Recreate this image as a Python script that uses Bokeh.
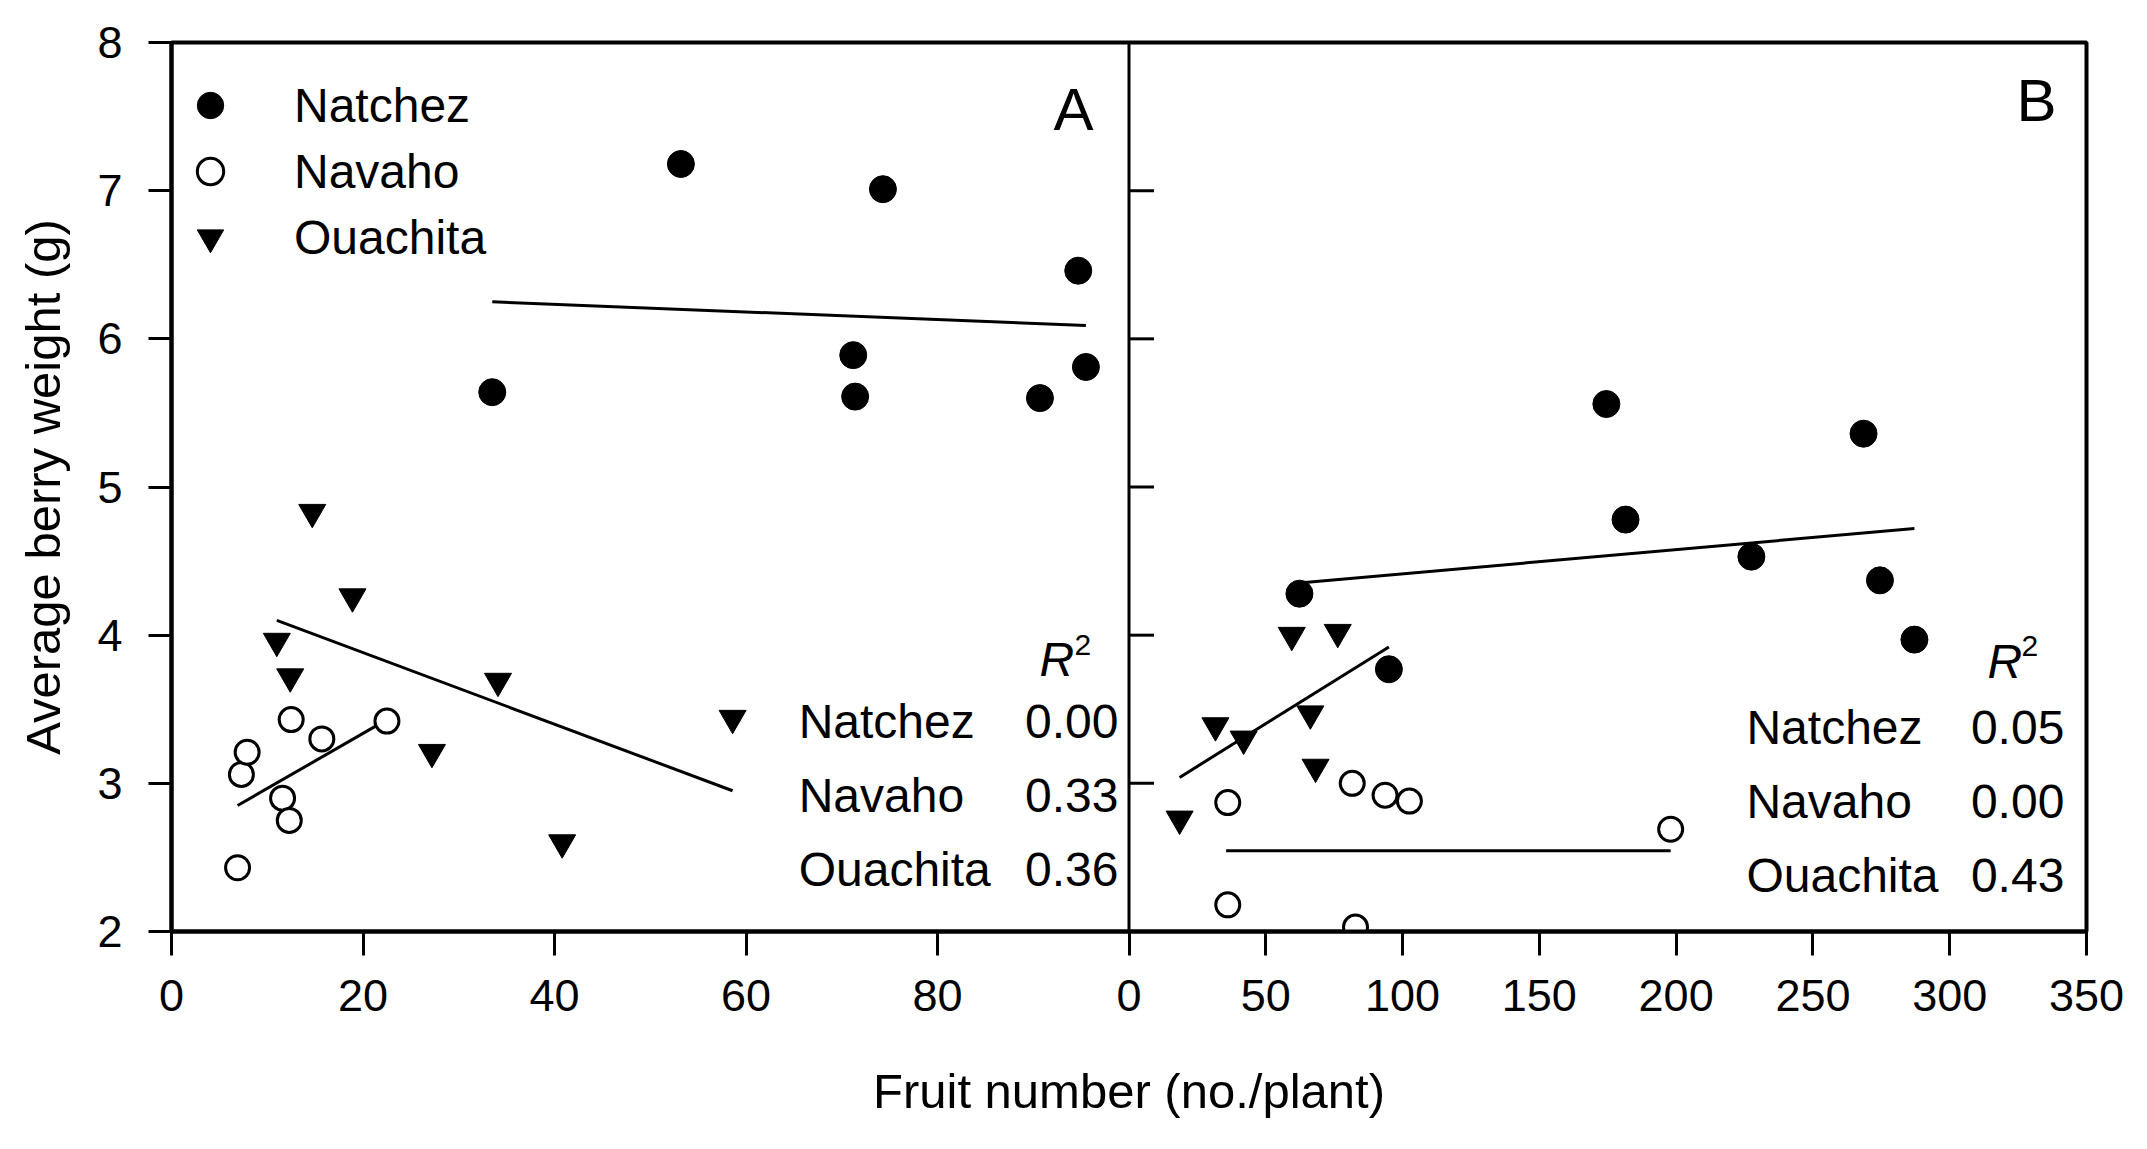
from bokeh.plotting import figure
from bokeh.models import (Range1d, LinearAxis, FixedTicker, Span, Legend, LegendItem)
from bokeh.core.properties import value
from bokeh.embed import file_html
from bokeh.resources import INLINE

# ---------------- data ----------------
# Panel A
natA_x = [53.2, 74.3, 94.7, 71.2, 71.4, 95.5, 90.7, 33.5]
natA_y = [7.18, 7.01, 6.46, 5.89, 5.61, 5.81, 5.60, 5.64]
navA_x = [6.9, 7.3, 7.9, 11.6, 12.3, 12.5, 15.7, 22.5]
navA_y = [2.43, 3.06, 3.21, 2.90, 2.75, 3.43, 3.30, 3.42]
ouaA_x = [11.0, 12.4, 14.7, 18.9, 27.2, 34.1, 40.8, 58.6]
ouaA_y = [3.96, 3.72, 4.83, 4.26, 3.21, 3.69, 2.60, 3.44]
natA_fit_x = [33.5, 95.5]
natA_fit_y = [6.25, 6.09]
navA_fit_x = [6.9, 22.5]
navA_fit_y = [2.85, 3.43]
ouaA_fit_x = [11.0, 58.6]
ouaA_fit_y = [4.10, 2.95]

# Panel B
natB_x = [62.3, 95.0, 174.5, 181.5, 227.5, 268.5, 274.5, 287.1]
natB_y = [4.28, 3.77, 5.56, 4.78, 4.53, 5.36, 4.37, 3.97]
navB_x = [36.1, 36.1, 81.6, 82.8, 93.6, 102.5, 198.0]
navB_y = [2.87, 2.18, 3.00, 2.03, 2.92, 2.88, 2.69]
ouaB_x = [18.5, 31.6, 41.9, 59.5, 66.3, 68.2, 76.3]
ouaB_y = [2.76, 3.39, 3.30, 4.00, 3.47, 3.11, 4.02]
natB_fit_x = [61.1, 287.1]
natB_fit_y = [4.35, 4.72]
navB_fit_x = [35.5, 198.0]
navB_fit_y = [2.545, 2.545]
ouaB_fit_x = [18.5, 95.0]
ouaB_fit_y = [3.04, 3.92]

cultivars = ["Natchez", "Navaho", "Ouachita"]
r2_A = ["0.00", "0.33", "0.36"]
r2_B = ["0.05", "0.00", "0.43"]
panel_names = ["A", "B"]

xticks_A = [0, 20, 40, 60, 80]
xticks_B = [0, 50, 100, 150, 200, 250, 300, 350]
yticks = [2, 3, 4, 5, 6, 7, 8]

x_title = "Fruit number (no./plant)"
y_title = "Average berry weight (g)"

# ---------------- styling ----------------
FONT = "Liberation Sans"
INK = "black"

rangeA = Range1d(0, 200)     # panel A occupies the left half (0-100)
rangeB = Range1d(-350, 350)  # panel B occupies the right half (0-350)

p = figure(width=2136, height=1131, x_range=rangeB, y_range=Range1d(2, 8),
           output_backend="svg", toolbar_location=None,
           x_axis_type=None, y_axis_type=None,
           min_border_left=171, min_border_right=50,
           min_border_top=42, min_border_bottom=200)
p.extra_x_ranges = {"A": rangeA}
p.background_fill_color = "white"
p.border_fill_color = "white"
p.outline_line_color = INK
p.outline_line_width = 4


def a_to_b(a):
    return rangeB.start + (a - rangeA.start) / (rangeA.end - rangeA.start) * (rangeB.end - rangeB.start)


tick_pos = [a_to_b(a) for a in xticks_A] + list(xticks_B)
tick_lab = [str(a) for a in xticks_A] + [str(b) for b in xticks_B]
overrides = {}
for t, l in zip(tick_pos, tick_lab):
    overrides[t] = l

xaxis = LinearAxis(ticker=FixedTicker(ticks=tick_pos), major_label_overrides=overrides,
                   axis_label=x_title)
yaxis = LinearAxis(ticker=FixedTicker(ticks=yticks), axis_label=y_title)
for ax in (xaxis, yaxis):
    ax.axis_line_width = 4
    ax.axis_line_color = INK
    ax.major_tick_line_width = 3
    ax.major_tick_line_color = INK
    ax.major_tick_in = 0
    ax.minor_tick_line_color = None
    ax.major_label_text_font = FONT
    ax.major_label_text_font_size = "45px"
    ax.major_label_text_color = INK
    ax.axis_label_text_font = FONT
    ax.axis_label_text_font_size = "49px"
    ax.axis_label_text_font_style = "normal"
    ax.axis_label_text_color = INK
xaxis.major_tick_out = 24
xaxis.major_label_standoff = 24
xaxis.axis_label_standoff = 50
yaxis.major_tick_out = 23
yaxis.major_label_standoff = 26
yaxis.axis_label_standoff = 24
p.add_layout(xaxis, "below")
p.add_layout(yaxis, "left")

# divider between panels, with inward ticks for panel B
p.add_layout(Span(location=xticks_B[0], dimension="height", line_color=INK, line_width=3))
p.ray(x=[xticks_B[0]] * len(yticks), y=yticks, length=25, angle=0,
      length_units="screen", line_color=INK, line_width=3)

# ---------------- fit lines ----------------
for fx, fy in ((natA_fit_x, natA_fit_y), (navA_fit_x, navA_fit_y), (ouaA_fit_x, ouaA_fit_y)):
    p.line(fx, fy, line_color=INK, line_width=3, x_range_name="A")
for fx, fy in ((natB_fit_x, natB_fit_y), (navB_fit_x, navB_fit_y), (ouaB_fit_x, ouaB_fit_y)):
    p.line(fx, fy, line_color=INK, line_width=3)

# ---------------- points ----------------
rA_nat = p.scatter(natA_x, natA_y, marker="circle", size=27, fill_color=INK, line_color=INK,
                   x_range_name="A")
rA_nav = p.scatter(navA_x, navA_y, marker="circle", size=24, fill_color="white", line_color=INK,
                   line_width=3, x_range_name="A")
rA_oua = p.scatter(ouaA_x, ouaA_y, marker="inverted_triangle", size=27, fill_color=INK,
                   line_color=INK, x_range_name="A")
p.scatter(natB_x, natB_y, marker="circle", size=27, fill_color=INK, line_color=INK)
p.scatter(navB_x, navB_y, marker="circle", size=24, fill_color="white", line_color=INK, line_width=3)
p.scatter(ouaB_x, ouaB_y, marker="inverted_triangle", size=27, fill_color=INK, line_color=INK)

legend = Legend(items=[LegendItem(label=cultivars[0], renderers=[rA_nat]),
                       LegendItem(label=cultivars[1], renderers=[rA_nav]),
                       LegendItem(label=cultivars[2], renderers=[rA_oua])],
                location=(6, 661), orientation="vertical",
                glyph_width=66, glyph_height=66, spacing=0, padding=0, margin=0,
                label_standoff=51, label_text_font=FONT, label_text_font_size="48px",
                label_text_color=INK, border_line_color=None, background_fill_alpha=0)
p.add_layout(legend)

# ---------------- texts (positioned by their vertical centre) ----------------
txt = dict(text_font=value(FONT), text_color=INK, text_baseline="middle")

# panel letters
p.text(x=[96.3], y=[7.547], text=[panel_names[0]], text_align="right",
       text_font_size=value("60px"), x_range_name="A", **txt)
p.text(x=[339.0], y=[7.607], text=[panel_names[1]], text_align="right",
       text_font_size=value("60px"), **txt)

# R^2 tables
rowA_y = [3.42 - 0.50 * i for i in range(3)]
rowB_y = [3.38 - 0.50 * i for i in range(3)]
p.text(x=[65.5] * 3, y=rowA_y, text=cultivars, text_align="left",
       text_font_size=value("48px"), x_range_name="A", **txt)
p.text(x=[98.9] * 3, y=rowA_y, text=r2_A, text_align="right",
       text_font_size=value("48px"), x_range_name="A", **txt)
p.text(x=[90.65], y=[3.833], text=["R"], text_align="left", text_font_style="italic",
       text_font_size=value("48px"), x_range_name="A", **txt)
p.text(x=[94.3], y=[3.934], text=["2"], text_align="left",
       text_font_size=value("30px"), x_range_name="A", **txt)

p.text(x=[225.7] * 3, y=rowB_y, text=cultivars, text_align="left",
       text_font_size=value("48px"), **txt)
p.text(x=[341.9] * 3, y=rowB_y, text=r2_B, text_align="right",
       text_font_size=value("48px"), **txt)
p.text(x=[313.8], y=[3.819], text=["R"], text_align="left", text_font_style="italic",
       text_font_size=value("48px"), **txt)
p.text(x=[326.2], y=[3.925], text=["2"], text_align="left",
       text_font_size=value("30px"), **txt)

open("out.html", "w").write(file_html(p, INLINE))
